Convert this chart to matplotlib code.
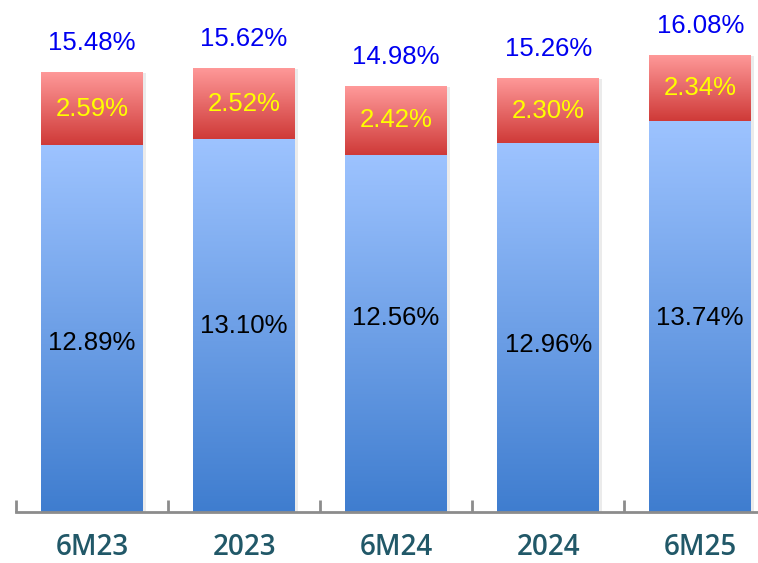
import numpy as np
import matplotlib
matplotlib.use('Agg')
import matplotlib.pyplot as plt
from matplotlib.colors import LinearSegmentedColormap

#%% Dados

categorias = ['6M23', '2023', '6M24', '2024', '6M25']
base = [12.89, 13.10, 12.56, 12.96, 13.74]     # parte azul
extra = [2.59, 2.52, 2.42, 2.30, 2.34]         # parte vermelha
total = [15.48, 15.62, 14.98, 15.26, 16.08]    # rotulo acima

# altura dos rotulos azuis (em unidades do eixo y)
y_rot_azul = [5.95, 6.54, 6.83, 5.88, 6.83]

#%% Figura

fig = plt.figure(figsize=(7.58, 5.63), dpi=100)
ax = fig.add_axes([16 / 758, 51 / 563, 742 / 758, 512 / 563])

x = np.arange(len(categorias))
larg = 0.67

cmap_azul = LinearSegmentedColormap.from_list('azul', ['#3F7DCF', '#9DC3FF'])
cmap_verm = LinearSegmentedColormap.from_list('verm', ['#CF3A38', '#FF9A9A'])
grad = np.linspace(0, 1, 256).reshape(-1, 1)

barras_b = ax.bar(x, base, width=larg, color='none', edgecolor='none')
barras_v = ax.bar(x, extra, bottom=base, width=larg, color='none', edgecolor='none')

# preenche as barras com gradiente
for barras, cmap in [(barras_b, cmap_azul), (barras_v, cmap_verm)]:
    for b in barras:
        x0, y0 = b.get_x(), b.get_y()
        x1, y1 = x0 + b.get_width(), y0 + b.get_height()
        # sombra leve
        ax.bar(x0 + b.get_width() / 2 + 0.02, b.get_height(), bottom=y0 - 0.05,
               width=b.get_width(), color='#000000', alpha=0.08, zorder=0.5,
               edgecolor='none')
        im = ax.imshow(grad, cmap=cmap, origin='lower', aspect='auto',
                       extent=[x0, x1, y0, y1], zorder=1)
        im.set_clip_path(b)

#%% Rotulos

for i in range(len(categorias)):
    ax.text(x[i], total[i] + 1.0, '%.2f%%' % total[i], ha='center', va='center',
            color='#0000F0', fontsize=18.5, family='Liberation Sans')
    ax.text(x[i], base[i] + extra[i] / 2, '%.2f%%' % extra[i], ha='center', va='center',
            color='#FFFF00', fontsize=18.5, family='Liberation Sans')
    ax.text(x[i], y_rot_azul[i], '%.2f%%' % base[i], ha='center', va='center',
            color='black', fontsize=18.5, family='Liberation Sans')

#%% Eixos

ax.set_xlim(-0.5, 4.38)
ax.set_ylim(0, 18.0)
for lado in ['top', 'right', 'left']:
    ax.spines[lado].set_visible(False)
ax.spines['bottom'].set_color('#8C8C8C')
ax.spines['bottom'].set_linewidth(2)
ax.set_yticks([])

ax.set_xticks(x)
ax.set_xticklabels(categorias, fontsize=20, color='#215868', family='Open Sans',
                   fontweight='semibold')
ax.tick_params(axis='x', which='major', length=0, pad=15)
ax.set_xticks(np.arange(-0.5, 4, 1), minor=True)
ax.tick_params(axis='x', which='minor', direction='in', length=9, width=2,
               color='#8C8C8C')
ax.patch.set_visible(False)

fig.savefig('out.png', dpi=100)
